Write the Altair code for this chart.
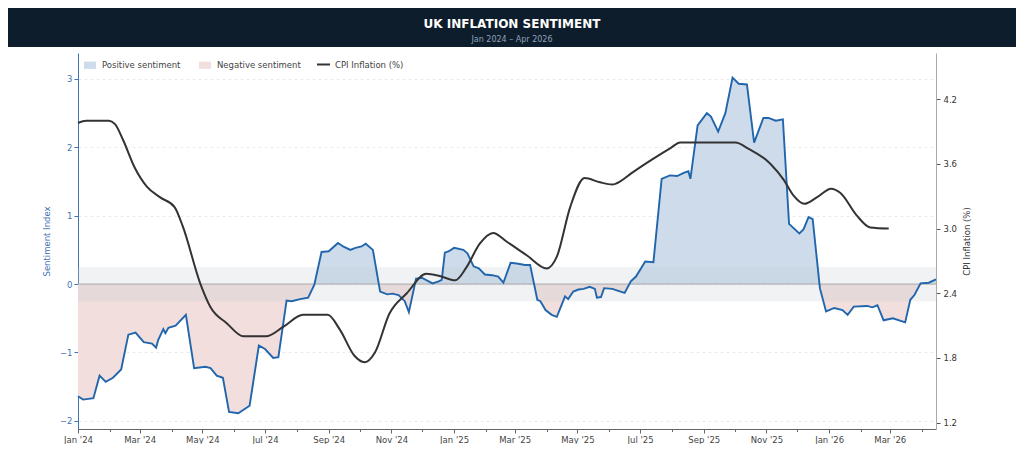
import altair as alt
import pandas as pd

# ---------------- data ----------------
SENT_DATES = [
    "2024-01-01", "2024-01-06", "2024-01-16", "2024-01-22", "2024-01-28", "2024-02-04",
    "2024-02-12", "2024-02-19", "2024-02-26", "2024-03-05", "2024-03-13", "2024-03-17",
    "2024-03-19", "2024-03-24", "2024-03-26", "2024-03-29", "2024-04-05", "2024-04-15",
    "2024-04-23", "2024-05-04", "2024-05-09", "2024-05-15", "2024-05-21", "2024-05-27",
    "2024-06-05", "2024-06-16", "2024-06-25", "2024-07-01", "2024-07-09", "2024-07-14",
    "2024-07-22", "2024-07-27", "2024-08-04", "2024-08-12", "2024-08-18", "2024-08-25",
    "2024-09-01", "2024-09-10", "2024-09-15", "2024-09-22", "2024-09-27", "2024-10-03",
    "2024-10-07", "2024-10-14", "2024-10-21", "2024-10-28", "2024-11-02", "2024-11-08",
    "2024-11-14", "2024-11-18", "2024-11-25", "2024-12-01", "2024-12-11", "2024-12-17",
    "2024-12-20", "2024-12-23", "2024-12-27", "2025-01-01", "2025-01-10", "2025-01-14",
    "2025-01-20", "2025-01-25", "2025-01-31", "2025-02-07", "2025-02-13", "2025-02-18",
    "2025-02-25", "2025-03-03", "2025-03-11", "2025-03-16", "2025-03-23", "2025-03-26",
    "2025-03-31", "2025-04-06", "2025-04-11", "2025-04-19", "2025-04-22", "2025-04-27",
    "2025-05-02", "2025-05-07", "2025-05-13", "2025-05-18", "2025-05-20", "2025-05-24",
    "2025-05-27", "2025-06-04", "2025-06-12", "2025-06-16", "2025-06-22", "2025-06-27",
    "2025-07-06", "2025-07-14", "2025-07-22", "2025-07-30", "2025-08-06", "2025-08-13",
    "2025-08-17", "2025-08-19", "2025-08-26", "2025-09-04", "2025-09-08", "2025-09-15",
    "2025-09-22", "2025-09-29", "2025-10-05", "2025-10-13", "2025-10-20", "2025-10-29",
    "2025-11-03", "2025-11-10", "2025-11-17", "2025-11-23", "2025-12-03", "2025-12-07",
    "2025-12-12", "2025-12-16", "2025-12-23", "2025-12-29", "2026-01-06", "2026-01-14",
    "2026-01-19", "2026-01-25", "2026-02-07", "2026-02-12", "2026-02-17", "2026-02-23",
    "2026-03-04", "2026-03-16", "2026-03-21", "2026-03-25", "2026-03-31", "2026-04-08",
    "2026-04-15",
]
SENT_VALUES = [
    -1.64, -1.69, -1.67, -1.34, -1.43, -1.37,
    -1.25, -0.74, -0.71, -0.85, -0.87, -0.93,
    -0.82, -0.66, -0.72, -0.64, -0.61, -0.45,
    -1.23, -1.21, -1.23, -1.34, -1.37, -1.87,
    -1.89, -1.78, -0.90, -0.95, -1.08, -1.07,
    -0.24, -0.25, -0.22, -0.20, -0.01, 0.47,
    0.48, 0.60, 0.55, 0.50, 0.53, 0.55,
    0.59, 0.50, -0.11, -0.15, -0.14, -0.16,
    -0.25, -0.41, 0.08, 0.09, 0.01, 0.04,
    0.06, 0.46, 0.48, 0.53, 0.50, 0.45,
    0.26, 0.23, 0.14, 0.13, 0.11, 0.02,
    0.31, 0.30, 0.28, 0.28, -0.23, -0.25,
    -0.38, -0.45, -0.48, -0.18, -0.22, -0.11,
    -0.08, -0.07, -0.04, -0.07, -0.20, -0.19,
    -0.06, -0.07, -0.11, -0.13, 0.04, 0.11,
    0.33, 0.32, 1.54, 1.59, 1.58, 1.63,
    1.65, 1.54, 2.32, 2.50, 2.45, 2.23,
    2.50, 3.02, 2.93, 2.92, 2.07, 2.43,
    2.43, 2.39, 2.41, 0.88, 0.74, 0.80,
    0.98, 0.95, -0.06, -0.40, -0.35, -0.38,
    -0.45, -0.33, -0.32, -0.34, -0.31, -0.53,
    -0.50, -0.56, -0.23, -0.16, 0.01, 0.02,
    0.07,
]

CPI_DATES = [
    "2024-01-01", "2024-01-09", "2024-01-31", "2024-02-06", "2024-02-14", "2024-02-25",
    "2024-03-08", "2024-03-21", "2024-04-04", "2024-04-12", "2024-04-29", "2024-05-09",
    "2024-05-25", "2024-06-10", "2024-07-02", "2024-07-19", "2024-08-07", "2024-08-31",
    "2024-09-12", "2024-09-26", "2024-10-06", "2024-10-16", "2024-10-30", "2024-11-16",
    "2024-12-05", "2024-12-18", "2025-01-02", "2025-01-13", "2025-01-26", "2025-02-08",
    "2025-02-21", "2025-03-13", "2025-04-01", "2025-04-11", "2025-04-24", "2025-05-08",
    "2025-05-23", "2025-06-04", "2025-06-12", "2025-06-22", "2025-07-14", "2025-07-31",
    "2025-08-09", "2025-10-02", "2025-10-13", "2025-11-05", "2025-11-18", "2025-11-27",
    "2025-12-08", "2025-12-20", "2026-01-03", "2026-01-12", "2026-01-28", "2026-02-10",
    "2026-02-28",
]
CPI_VALUES = [
    3.98, 4.00, 4.00, 3.97, 3.82, 3.57,
    3.39, 3.29, 3.20, 3.02, 2.49, 2.27,
    2.12, 2.00, 2.00, 2.09, 2.20, 2.20,
    2.06, 1.82, 1.76, 1.85, 2.21, 2.40,
    2.58, 2.56, 2.52, 2.64, 2.86, 2.96,
    2.88, 2.75, 2.63, 2.74, 3.20, 3.47,
    3.43, 3.41, 3.44, 3.51, 3.65, 3.75,
    3.80, 3.80, 3.75, 3.60, 3.45, 3.31,
    3.23, 3.29, 3.37, 3.33, 3.12, 3.01,
    3.00,
]

NEUTRAL_BAND = [-0.25, 0.25]
LEFT_TICKS = [-2, -1, 0, 1, 2, 3]
RIGHT_TICKS = [1.2, 1.8, 2.4, 3.0, 3.6, 4.2]
LEFT_DOMAIN = [-2.12, 3.38]
RIGHT_DOMAIN = [1.14, 4.63]
TITLE = "UK INFLATION SENTIMENT"
SUBTITLE = "Jan 2024 \u2013 Apr 2026"
FILL_LABELS = ["Positive sentiment", "Negative sentiment"]
CPI_LABEL = "CPI Inflation (%)"
LEFT_TITLE = "Sentiment Index"
RIGHT_TITLE = "CPI Inflation (%)"

# ---------------- styling ----------------
W, H = 858, 376
FONT = "DejaVu Sans"
BLUE = "#2166ac"
AXBLUE = "#3f73b5"
FILL_COLORS = ["#cddbeb", "#f2dedd"]
FMT = "%Y-%m-%dT%H:%M:%S"

# ---------------- frames ----------------
sent = pd.DataFrame({"date": pd.to_datetime(SENT_DATES), "v": SENT_VALUES})

pts = []
for i in range(len(sent)):
    if i > 0:
        v0, v1 = sent.v[i - 1], sent.v[i]
        if v0 * v1 < 0:
            t0, t1 = sent.date[i - 1], sent.date[i]
            pts.append((t0 + (t1 - t0) * (v0 / (v0 - v1)), 0.0))
    pts.append((sent.date[i], float(sent.v[i])))

fill_rows = []
for t, v in pts:
    ts = t.strftime(FMT)
    fill_rows.append({"date": ts, "val": max(v, 0.0), "kind": FILL_LABELS[0]})
    fill_rows.append({"date": ts, "val": min(v, 0.0), "kind": FILL_LABELS[1]})
fill_df = pd.DataFrame(fill_rows)

line_df = pd.DataFrame({"date": [d.strftime(FMT) for d in sent.date], "v": SENT_VALUES})
cpi_df = pd.DataFrame({
    "date": [pd.Timestamp(d).strftime(FMT) for d in CPI_DATES],
    "cpi": CPI_VALUES,
    "series": [CPI_LABEL] * len(CPI_VALUES),
})
band_df = pd.DataFrame({"lo": [NEUTRAL_BAND[0]], "hi": [NEUTRAL_BAND[1]], "zero": [0.0]})
title_df = pd.DataFrame({"title": [TITLE], "subtitle": [SUBTITLE]})

# ---------------- scales / axes ----------------
XAXIS = alt.Axis(
    title=None, grid=False,
    tickCount={"interval": "month", "step": 1},
    labelExpr="month(datum.value) % 2 == 0 ? timeFormat(datum.value, \"%b '%y\") : ''",
    labelOverlap=False, labelFlush=False,
    tickSize={"condition": {"test": "month(datum.value) % 2 == 0", "value": 4}, "value": 2.5},
    domainColor="#666", tickColor="#666", labelColor="#444",
    labelFontSize=8.5, labelPadding=2, labelFont=FONT,
)
XSCALE = alt.Scale(nice=False)
x = alt.X("date:T", scale=XSCALE, axis=XAXIS)

YL = alt.Scale(domain=LEFT_DOMAIN, nice=False, zero=False)
YLAXIS = alt.Axis(
    values=LEFT_TICKS, title=LEFT_TITLE, titleColor=AXBLUE, labelColor=AXBLUE,
    domainColor=AXBLUE, tickColor=AXBLUE, grid=True, gridDash=[3, 3],
    gridColor="#e4e4e4", gridWidth=0.8, labelFontSize=8.5, titleFontSize=8.5,
    titleFontWeight="normal", tickSize=4, labelPadding=2, titlePadding=8,
    labelFont=FONT, titleFont=FONT,
)

YR = alt.Scale(domain=RIGHT_DOMAIN, nice=False, zero=False)
YRAXIS = alt.Axis(
    orient="right", values=RIGHT_TICKS, format=".1f", title=RIGHT_TITLE,
    titleColor="#333", labelColor="#333", domainColor="#aaa", tickColor="#555",
    grid=False, labelFontSize=8.5, titleFontSize=8.5, titleFontWeight="normal",
    titleAngle=270, titleBaseline="top",
    tickSize=4, labelPadding=3, titlePadding=6, labelFont=FONT, titleFont=FONT,
)

# ---------------- layers ----------------
title_band = alt.Chart(title_df).mark_rect(color="#0e1d2c").encode(
    x=alt.value(-70), x2=alt.value(W + 80), y=alt.value(-45), y2=alt.value(-6)
)
title_text = alt.Chart(title_df).mark_text(
    font=FONT, fontSize=12, fontWeight="bold", color="white", align="center", baseline="middle"
).encode(x=alt.value(434), y=alt.value(-29), text="title:N")
sub_text = alt.Chart(title_df).mark_text(
    font=FONT, fontSize=8, color="#8fa2b8", align="center", baseline="middle"
).encode(x=alt.value(434), y=alt.value(-13), text="subtitle:N")

fills = alt.Chart(fill_df).mark_area(interpolate="linear").encode(
    x=x,
    y=alt.Y("val:Q", scale=YL, axis=YLAXIS, stack=None),
    y2=alt.datum(0),
    fill=alt.Fill(
        "kind:N",
        scale=alt.Scale(domain=FILL_LABELS, range=FILL_COLORS),
        legend=alt.Legend(
            orient="none", legendX=6, legendY=6, direction="horizontal", title=None,
            symbolType="M-1,-0.6L1,-0.6L1,0.6L-1,0.6Z", symbolSize=144,
            symbolStrokeWidth=0, labelFontSize=8.5, labelColor="#444", labelFont=FONT,
            columnPadding=18, labelOffset=6, padding=0,
        ),
    ),
)

band = alt.Chart(band_df).mark_rect(fill="#c3cad4", opacity=0.25).encode(
    x=alt.value(0), x2=alt.value(W),
    y=alt.Y("lo:Q", scale=YL, axis=YLAXIS), y2="hi:Q",
)
zero = alt.Chart(band_df).mark_rule(color="#a8a8ad", strokeWidth=1).encode(
    y=alt.Y("zero:Q", scale=YL, axis=YLAXIS)
)
sent_line = alt.Chart(line_df).mark_line(color=BLUE, strokeWidth=1.9).encode(
    x=x, y=alt.Y("v:Q", scale=YL, axis=YLAXIS)
)

left = alt.layer(title_band, fills, band, zero, sent_line, title_text, sub_text)

cpi_line = alt.Chart(cpi_df).mark_line(strokeWidth=2, interpolate="monotone").encode(
    x=x,
    y=alt.Y("cpi:Q", scale=YR, axis=YRAXIS),
    stroke=alt.Stroke(
        "series:N",
        scale=alt.Scale(domain=[CPI_LABEL], range=["#333333"]),
        legend=alt.Legend(
            orient="none", legendX=238, legendY=4, title=None, symbolType="stroke",
            symbolSize=169, symbolStrokeWidth=2, labelFontSize=8.5, labelColor="#444",
            labelFont=FONT, labelOffset=4, padding=0,
        ),
    ),
)

chart = (
    alt.layer(left, cpi_line)
    .resolve_scale(y="independent")
    .properties(
        width=W, height=H,
        padding={"left": 70, "top": 45, "right": 80, "bottom": 15},
        autosize=alt.AutoSizeParams(type="none"),
        background="white",
    )
    .configure(font=FONT)
    .configure_view(strokeWidth=0)
)

chart.save("out.html", embed_options={"renderer": "svg", "actions": False})
